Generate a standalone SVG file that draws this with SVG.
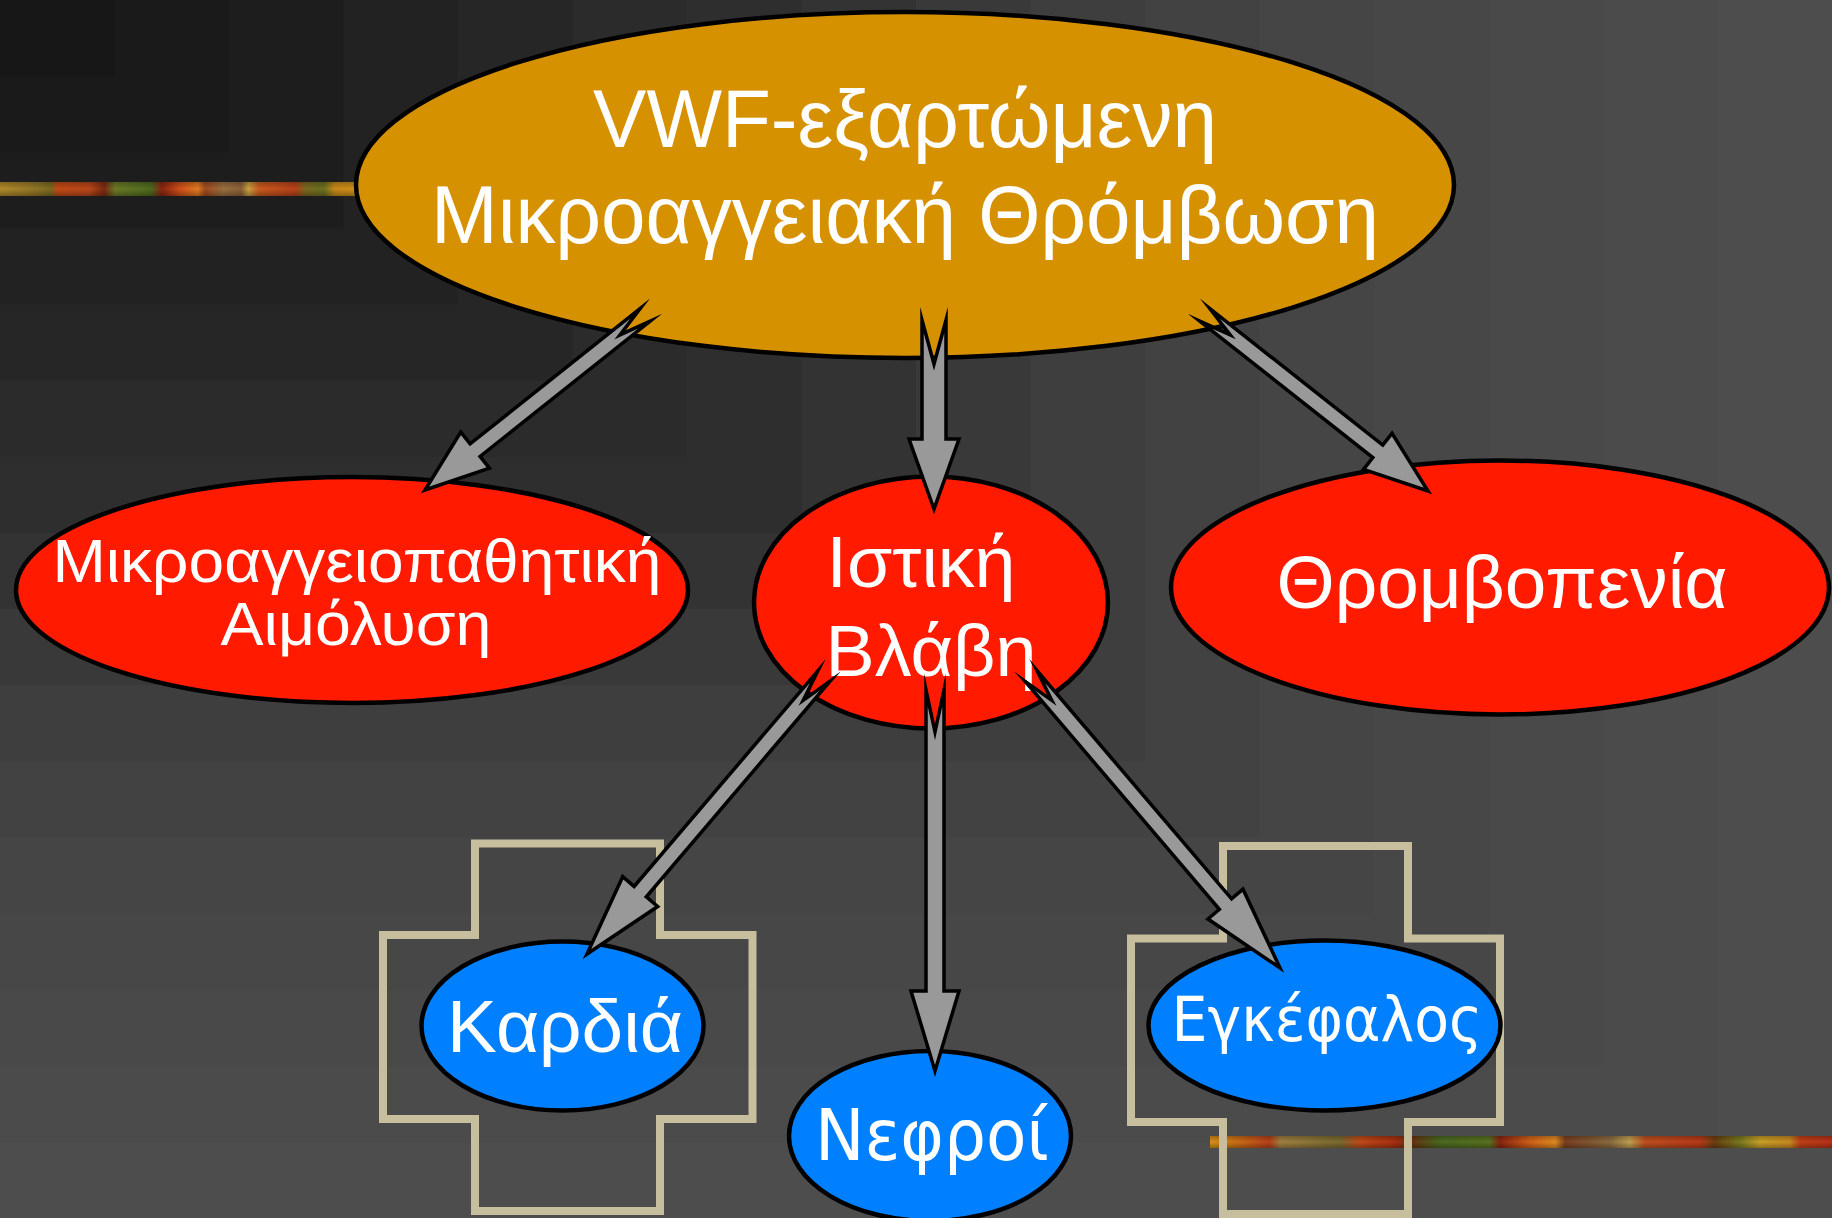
<svg xmlns="http://www.w3.org/2000/svg" width="1832" height="1218" viewBox="0 0 1832 1218">
  <style>
    .node { stroke: #000; stroke-width: 4.5; }
    .orange { fill: #d69100; }
    .red { fill: #ff1a00; }
    .blue { fill: #0080ff; }
    .frame { fill: none; stroke: #c6be9c; stroke-width: 8; stroke-linejoin: miter; }
    .lbl { fill: #fff; font-family: "Liberation Sans", Arial, sans-serif; text-anchor: middle; }
    .lbl2 { fill: #fff; font-family: "DejaVu Sans", Verdana, sans-serif; text-anchor: middle; }
    .arrow { fill: #999; stroke: #000; stroke-width: 3.5; stroke-linejoin: miter; stroke-miterlimit: 10; }
  </style>
  <defs>
    <linearGradient id="texTop" gradientUnits="userSpaceOnUse" x1="0" y1="0" x2="360" y2="0">
      <stop offset="0" stop-color="#b08a2a"/>
      <stop offset="0.08" stop-color="#9a7a28"/>
      <stop offset="0.14" stop-color="#7a6a20"/>
      <stop offset="0.16" stop-color="#c24a16"/>
      <stop offset="0.25" stop-color="#b8461a"/>
      <stop offset="0.29" stop-color="#7a2a12"/>
      <stop offset="0.32" stop-color="#6a7a26"/>
      <stop offset="0.42" stop-color="#4e6a1e"/>
      <stop offset="0.45" stop-color="#8a2410"/>
      <stop offset="0.50" stop-color="#d0501a"/>
      <stop offset="0.55" stop-color="#e07a20"/>
      <stop offset="0.57" stop-color="#a04a20"/>
      <stop offset="0.62" stop-color="#9a7040"/>
      <stop offset="0.67" stop-color="#8a6038"/>
      <stop offset="0.69" stop-color="#c8a040"/>
      <stop offset="0.72" stop-color="#c85a1e"/>
      <stop offset="0.82" stop-color="#b8401a"/>
      <stop offset="0.85" stop-color="#7a6a20"/>
      <stop offset="0.90" stop-color="#6a7020"/>
      <stop offset="0.93" stop-color="#c88a18"/>
      <stop offset="1" stop-color="#d09018"/>
    </linearGradient>
    <linearGradient id="texBottom" gradientUnits="userSpaceOnUse" x1="1210" y1="0" x2="1832" y2="0">
      <stop offset="0" stop-color="#d89018"/>
      <stop offset="0.048" stop-color="#c86a14"/>
      <stop offset="0.096" stop-color="#b8401a"/>
      <stop offset="0.113" stop-color="#a08040"/>
      <stop offset="0.209" stop-color="#7a6a30"/>
      <stop offset="0.241" stop-color="#c04a18"/>
      <stop offset="0.297" stop-color="#a83010"/>
      <stop offset="0.322" stop-color="#6a3010"/>
      <stop offset="0.370" stop-color="#4a6a20"/>
      <stop offset="0.450" stop-color="#5a7020"/>
      <stop offset="0.466" stop-color="#8a2410"/>
      <stop offset="0.514" stop-color="#d06018"/>
      <stop offset="0.555" stop-color="#e08a20"/>
      <stop offset="0.571" stop-color="#7a4020"/>
      <stop offset="0.643" stop-color="#8a6a40"/>
      <stop offset="0.675" stop-color="#c0a050"/>
      <stop offset="0.699" stop-color="#c05020"/>
      <stop offset="0.788" stop-color="#b83a18"/>
      <stop offset="0.812" stop-color="#6a4010"/>
      <stop offset="0.852" stop-color="#7a7a20"/>
      <stop offset="0.884" stop-color="#c8a028"/>
      <stop offset="0.932" stop-color="#c88a20"/>
      <stop offset="0.949" stop-color="#c04018"/>
      <stop offset="1" stop-color="#b83018"/>
    </linearGradient>
    <linearGradient id="texShade" x1="0" y1="0" x2="0" y2="1">
      <stop offset="0" stop-color="#000" stop-opacity="0.25"/>
      <stop offset="0.5" stop-color="#000" stop-opacity="0"/>
      <stop offset="1" stop-color="#000" stop-opacity="0.3"/>
    </linearGradient>
  </defs>

  <!-- stepped corner gradient background, darkest at the top-left -->
  <g id="background">
    <rect x="0" y="0" width="1832" height="1218" fill="#4d4d4d"/>
    <rect x="0" y="0" width="1717.5" height="1141.9" fill="#4b4b4b"/>
    <rect x="0" y="0" width="1603" height="1065.75" fill="#494949"/>
    <rect x="0" y="0" width="1488.5" height="989.6" fill="#474747"/>
    <rect x="0" y="0" width="1374" height="913.5" fill="#454545"/>
    <rect x="0" y="0" width="1259.5" height="837.4" fill="#424242"/>
    <rect x="0" y="0" width="1145" height="761.25" fill="#3e3e3e"/>
    <rect x="0" y="0" width="1030.5" height="685.1" fill="#393939"/>
    <rect x="0" y="0" width="916" height="609" fill="#333333"/>
    <rect x="0" y="0" width="801.5" height="532.9" fill="#2e2e2e"/>
    <rect x="0" y="0" width="687" height="456.75" fill="#2b2b2b"/>
    <rect x="0" y="0" width="572.5" height="380.6" fill="#262626"/>
    <rect x="0" y="0" width="458" height="304.5" fill="#222222"/>
    <rect x="0" y="0" width="343.5" height="228.4" fill="#1d1d1d"/>
    <rect x="0" y="0" width="229" height="152.25" fill="#1a1a1a"/>
    <rect x="0" y="0" width="114.5" height="76.1" fill="#171717"/>
  </g>

  <!-- textured accent bands -->
  <g id="accents">
    <rect x="0" y="182" width="380" height="14" fill="url(#texTop)"/>
    <rect x="0" y="182" width="380" height="14" fill="url(#texShade)"/>
    <rect x="1210" y="1136" width="622" height="12" fill="url(#texBottom)"/>
    <rect x="1210" y="1136" width="622" height="12" fill="url(#texShade)"/>
  </g>

  <g id="node-vwf">
    <ellipse class="node orange" cx="905" cy="185" rx="549" ry="173"/>
    <text class="lbl" x="905" y="147" font-size="81" textLength="624" lengthAdjust="spacingAndGlyphs">VWF-εξαρτώμενη</text>
    <text class="lbl" x="905" y="243" font-size="81" textLength="948" lengthAdjust="spacingAndGlyphs">Μικροαγγειακή Θρόμβωση</text>
  </g>

  <g id="node-haemolysis">
    <ellipse class="node red" cx="352" cy="590" rx="336" ry="113"/>
    <text class="lbl" x="357" y="582" font-size="61" textLength="609" lengthAdjust="spacingAndGlyphs">Μικροαγγειοπαθητική</text>
    <text class="lbl" x="356" y="645" font-size="61" textLength="271" lengthAdjust="spacingAndGlyphs">Αιμόλυση</text>
  </g>

  <g id="node-tissue">
    <ellipse class="node red" cx="931" cy="602.5" rx="177" ry="126"/>
    <text class="lbl" x="921" y="587" font-size="73" textLength="189" lengthAdjust="spacingAndGlyphs">Ιστική</text>
    <text class="lbl" x="931" y="676" font-size="73" textLength="211" lengthAdjust="spacingAndGlyphs">Βλάβη</text>
  </g>

  <g id="node-thrombocytopenia">
    <ellipse class="node red" cx="1500" cy="587.5" rx="329" ry="127"/>
    <text class="lbl" x="1502" y="608" font-size="74" textLength="451" lengthAdjust="spacingAndGlyphs">Θρομβοπενία</text>
  </g>

  <g id="node-heart">
    <path class="frame" d="M475,843.5 H660 V935 H752.5 V1119 H660 V1211 H475 V1119 H383 V935 H475 Z"/>
    <ellipse class="node blue" cx="562.5" cy="1026" rx="141" ry="84.5"/>
    <text class="lbl" x="565" y="1052" font-size="74" textLength="236" lengthAdjust="spacingAndGlyphs">Καρδιά</text>
  </g>

  <g id="node-kidneys">
    <ellipse class="node blue" cx="930" cy="1136" rx="141" ry="85"/>
    <text class="lbl2" x="932" y="1160" font-size="72" textLength="234" lengthAdjust="spacingAndGlyphs">Νεφροί</text>
  </g>

  <g id="node-brain">
    <path class="frame" d="M1223,846 H1408 V938.5 H1500 V1122 H1408 V1214 H1223 V1122 H1131 V938.5 H1223 Z"/>
    <ellipse class="node blue" cx="1324.5" cy="1025.5" rx="176" ry="85"/>
    <text class="lbl2" x="1327" y="1041" font-size="63" textLength="311" lengthAdjust="spacingAndGlyphs">Εγκέφαλος</text>
  </g>

  <!-- notched block arrows -->
  <g id="connectors">
    <polygon class="arrow" points="640.02,308.74 470.11,443.9 460.77,432.16 425,490 489.41,468.16 480.07,456.42 649.98,321.26 619.96,334.92"/>
    <polygon class="arrow" points="922,320 922,439 909,439 934,509 959,439 946,439 946,320 934,364"/>
    <polygon class="arrow" points="1200.04,321.28 1372.81,457.63 1363.52,469.4 1428,491 1392.02,433.3 1382.73,445.07 1209.96,308.72 1230.12,334.82"/>
    <polygon class="arrow" points="817.91,670.81 634.11,886.41 622.7,876.68 587,954 657.7,906.52 646.29,896.79 830.09,681.19 803.24,700.35"/>
    <polygon class="arrow" points="926,690 926,991 911,991 935,1071 959,991 944,991 944,690 935,732"/>
    <polygon class="arrow" points="1024.91,681.19 1219.4,909.27 1207.99,919 1280,968 1242.99,889.16 1231.58,898.89 1037.09,670.81 1051.76,700.35"/>
  </g>
</svg>
